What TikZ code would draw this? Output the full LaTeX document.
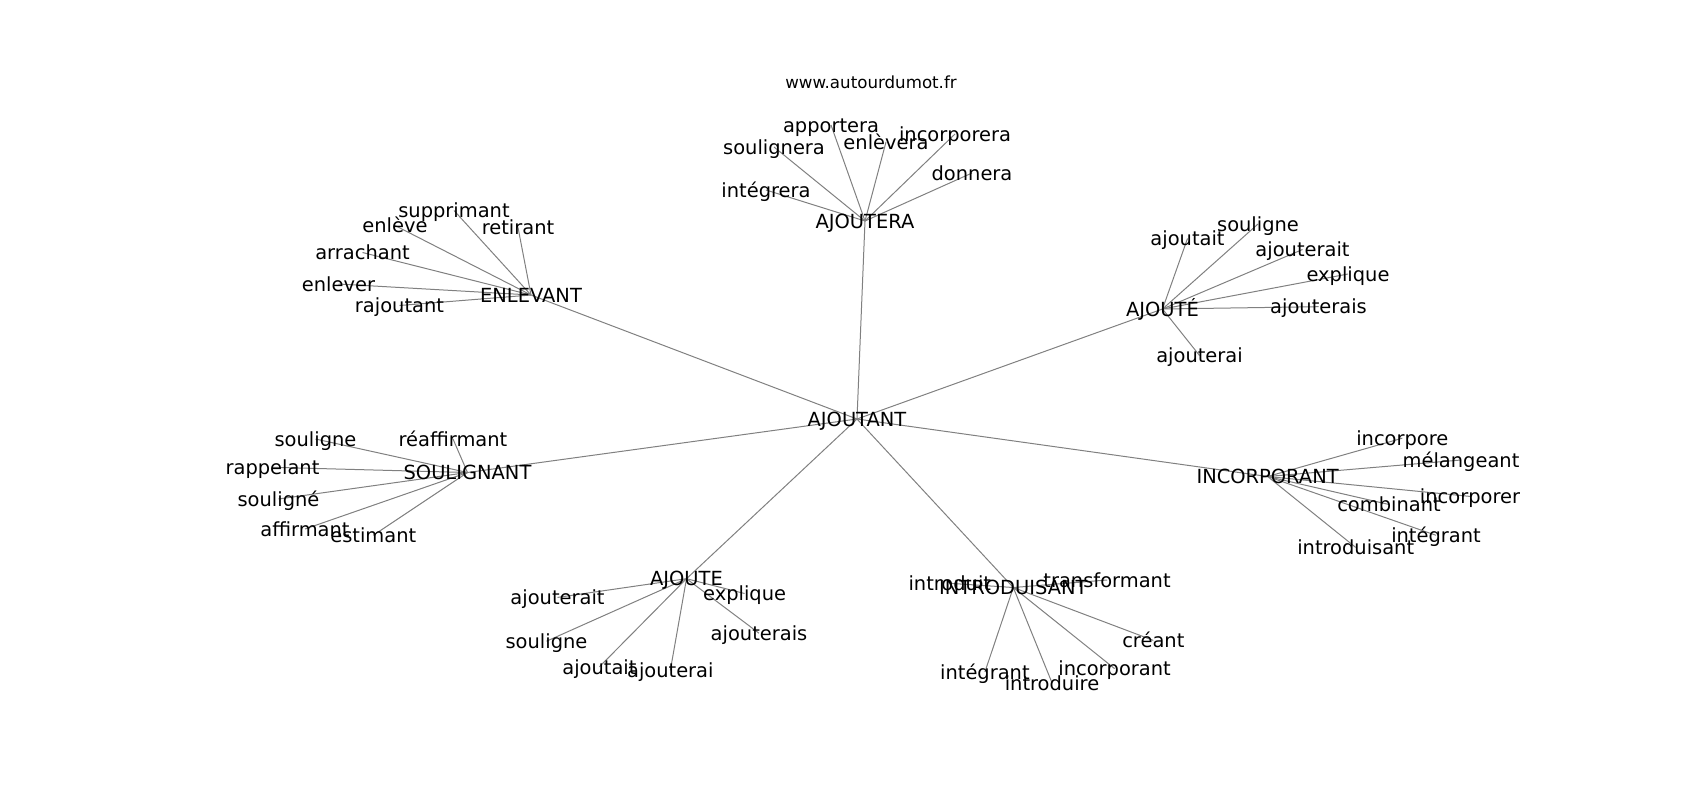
\documentclass[tikz,border=0pt]{standalone}
\usepackage{fontspec}
\setmainfont{DejaVu Sans}
\usepackage{tikz}
\usetikzlibrary{backgrounds}

\begin{document}
\begin{tikzpicture}[x=0.72pt,y=-0.72pt]

\tikzset{word/.style={font=\fontsize{14}{17}\selectfont,inner sep=0pt,text height=13.3pt,text depth=2.91pt},
sitenode/.style={font=\fontsize{12}{14}\selectfont,inner sep=0pt,text height=10.6pt,text depth=2.5pt},
link/.style={draw=black!50,line width=0.72pt}}

\useasboundingbox (0,0) rectangle (1700,800);

% Site
\node[sitenode] (site) at (871,83) {www.autourdumot.fr};

% Centre and hubs
\node[word] (ajoutant) at (857,419) {AJOUTANT};
\node[word] (ajoutera) at (865,221) {AJOUTERA};
\node[word] (enlevant) at (531,295) {ENLEVANT};
\node[word] (ajoutee) at (1162.5,309) {AJOUTÉ};
\node[word] (soulignant) at (467.5,472.5) {SOULIGNANT};
\node[word] (incorporant) at (1267.6,476.5) {INCORPORANT};
\node[word] (ajoute) at (686.5,578.7) {AJOUTE};
\node[word] (introduisant) at (1013.3,587.5) {INTRODUISANT};

% AJOUTERA
\node[word] (a1) at (831,125) {apportera};
\node[word] (a2) at (774,147) {soulignera};
\node[word] (a3) at (886,142) {enlèvera};
\node[word] (a4) at (955,134) {incorporera};
\node[word] (a5) at (972,173) {donnera};
\node[word] (a6) at (766,190) {intégrera};

% ENLEVANT
\node[word] (e1) at (454,210.5) {supprimant};
\node[word] (e2) at (395,225.5) {enlève};
\node[word] (e3) at (518,227.5) {retirant};
\node[word] (e4) at (362.5,252.5) {arrachant};
\node[word] (e5) at (338.5,284) {enlever};
\node[word] (e6) at (399.5,305.5) {rajoutant};

% AJOUTÉ
\node[word] (t1) at (1187.5,238.5) {ajoutait};
\node[word] (t2) at (1258,224) {souligne};
\node[word] (t3) at (1302.5,249.5) {ajouterait};
\node[word] (t4) at (1348,274) {explique};
\node[word] (t5) at (1318.5,306.7) {ajouterais};
\node[word] (t6) at (1199.5,355.5) {ajouterai};

% SOULIGNANT
\node[word] (s1) at (315.5,439) {souligne};
\node[word] (s2) at (453,439) {réaffirmant};
\node[word] (s3) at (272.5,467.3) {rappelant};
\node[word] (s4) at (278.5,499) {souligné};
\node[word] (s5) at (305,529) {affirmant};
\node[word] (s6) at (373.3,535.3) {estimant};

% INCORPORANT
\node[word] (i1) at (1402.3,438.2) {incorpore};
\node[word] (i2) at (1461,460) {mélangeant};
\node[word] (i3) at (1470,496.4) {incorporer};
\node[word] (i4) at (1389,504.5) {combinant};
\node[word] (i5) at (1436,535.3) {intégrant};
\node[word] (i6) at (1355.7,547.4) {introduisant};

% AJOUTE
\node[word] (j1) at (557.5,597.4) {ajouterait};
\node[word] (j2) at (744.6,593.5) {explique};
\node[word] (j3) at (759,633.2) {ajouterais};
\node[word] (j4) at (546.5,641.2) {souligne};
\node[word] (j5) at (599.4,666.8) {ajoutait};
\node[word] (j6) at (670.3,670.5) {ajouterai};

% INTRODUISANT
\node[word] (d1) at (949.8,583.3) {introduit};
\node[word] (d2) at (1107,580) {transformant};
\node[word] (d3) at (1153.3,640.4) {créant};
\node[word] (d4) at (984.9,672) {intégrant};
\node[word] (d5) at (1052,682.8) {introduire};
\node[word] (d6) at (1114.6,668.6) {incorporant};

% Edges
\begin{pgfonlayer}{background}
\foreach \h in {ajoutera,enlevant,ajoutee,soulignant,incorporant,ajoute,introduisant} \draw[link] (ajoutant.center) -- (\h.center);
\foreach \h/\p in {ajoutera/a,enlevant/e,ajoutee/t,soulignant/s,incorporant/i,ajoute/j,introduisant/d}
  \foreach \k in {1,...,6} \draw[link] (\h.center) -- (\p\k.center);
\end{pgfonlayer}

\end{tikzpicture}
\end{document}
